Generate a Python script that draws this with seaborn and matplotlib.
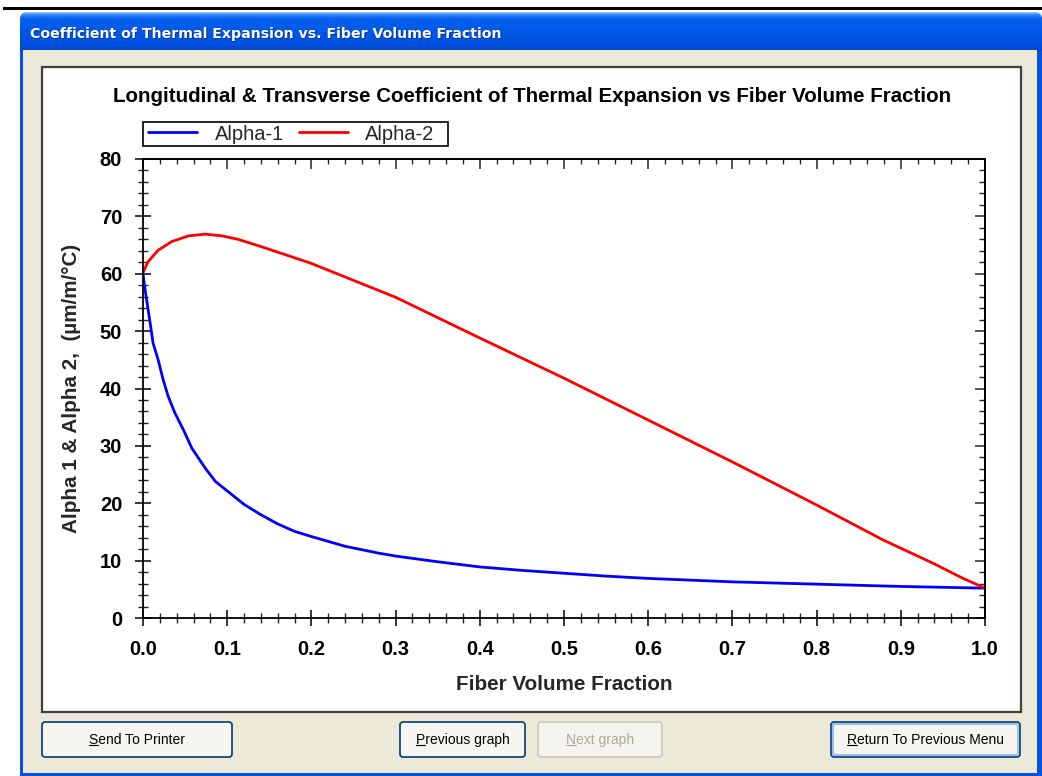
import numpy as np
import pandas as pd
import matplotlib
matplotlib.use("Agg")
import matplotlib.pyplot as plt
import seaborn as sns
from matplotlib.patches import Rectangle, FancyBboxPatch
from matplotlib.ticker import MultipleLocator

# ---------------- data ----------------
fvf_alpha1 = [0.0, 0.0025, 0.008, 0.012, 0.018, 0.024, 0.030, 0.038, 0.048, 0.058,
              0.074, 0.086, 0.103, 0.120, 0.140, 0.160, 0.180, 0.200, 0.240, 0.280,
              0.300, 0.350, 0.400, 0.450, 0.500, 0.550, 0.600, 0.650, 0.700, 0.750,
              0.800, 0.850, 0.900, 0.950, 1.000]
alpha1 = [60.0, 57.2, 51.9, 47.9, 45.0, 41.5, 38.6, 35.7, 32.8, 29.6,
          26.1, 23.8, 21.8, 19.8, 18.0, 16.4, 15.1, 14.2, 12.5, 11.3,
          10.8, 9.8, 8.9, 8.3, 7.8, 7.3, 6.9, 6.6, 6.3, 6.1,
          5.9, 5.7, 5.5, 5.35, 5.2]

fvf_alpha2 = [0.0, 0.006, 0.018, 0.034, 0.054, 0.074, 0.094, 0.113, 0.143, 0.200,
              0.300, 0.400, 0.500, 0.600, 0.700, 0.800, 0.879, 0.939, 0.974, 1.000]
alpha2 = [60.2, 62.1, 64.1, 65.6, 66.6, 66.9, 66.6, 66.0, 64.6, 61.8,
          55.9, 48.8, 41.8, 34.5, 27.2, 19.7, 13.6, 9.5, 6.9, 5.2]

series_labels = ["Alpha-1", "Alpha-2"]
x_ticks = [0.0, 0.1, 0.2, 0.3, 0.4, 0.5, 0.6, 0.7, 0.8, 0.9, 1.0]
y_ticks = [0, 10, 20, 30, 40, 50, 60, 70, 80]

window_title = "Coefficient of Thermal Expansion vs. Fiber Volume Fraction"
chart_title = "Longitudinal & Transverse Coefficient of Thermal Expansion vs Fiber Volume Fraction"
x_label = "Fiber Volume Fraction"
y_label = "Alpha 1 & Alpha 2,  (\u00b5m/m/\u00b0C)"
buttons = ["Send To Printer", "Previous graph", "Next graph", "Return To Previous Menu"]

# ---------------- style ----------------
sns.set_style("white")
chart_font = ["Liberation Sans", "DejaVu Sans"]
plt.rcParams["font.family"] = chart_font
plt.rcParams["xtick.bottom"] = True
plt.rcParams["ytick.left"] = True

W, H = 1042, 776
fig = plt.figure(figsize=(W / 100, H / 100), dpi=100)
fig.patch.set_facecolor("white")

# background "window" drawn in pixel coordinates
bg = fig.add_axes([0, 0, 1, 1])
bg.set_xlim(0, W)
bg.set_ylim(H, 0)
bg.axis("off")

bg.add_patch(Rectangle((3, 7), W - 3, 3, color="black", lw=0))
win = FancyBboxPatch((20, 12), 1022, 790, boxstyle="round,pad=0,rounding_size=8",
                     fc="#0552E0", ec="none")
bg.add_patch(win)
# title bar gradient
stops_y = [12, 14, 18, 30, 44, 50]
stops_c = ["#9CC2FF", "#3A8AFB", "#0862EE", "#0058E8", "#0050DE", "#0046CC"]
ys = np.arange(12, 51)
rgb = np.array([matplotlib.colors.to_rgb(c) for c in stops_c])
grad = np.stack([np.interp(ys, stops_y, rgb[:, k]) for k in range(3)], axis=-1)
grad = np.repeat(grad[:, None, :], 2, axis=1)
im = bg.imshow(grad, extent=(20, 1042, 51, 12), aspect="auto", interpolation="bilinear", zorder=1)
im.set_clip_path(win)
bg.set_xlim(0, W)
bg.set_ylim(H, 0)
# window body
bg.add_patch(Rectangle((23, 50), 1014, 723, fc="#ECE9D8", ec="none", zorder=2))
bg.text(31, 35, window_title, color="#0A246A", fontsize=10.2, weight="bold",
        family=["DejaVu Sans"], va="center", ha="left", zorder=3, alpha=0.6)
bg.text(30, 34, window_title, color="white", fontsize=10.2, weight="bold",
        family=["DejaVu Sans"], va="center", ha="left", zorder=3)
# white panel
bg.add_patch(Rectangle((42, 67), 979, 645, fc="white", ec="#404040", lw=1.6, zorder=2))
# legend box outline
bg.add_patch(Rectangle((143, 122), 305, 24, fc="white", ec="black", lw=1.2, zorder=6))

# buttons
btn_font = ["Liberation Sans", "DejaVu Sans"]
btn_size = 10.0
btn_boxes = [(42, 190), (400, 125), (538, 124), (831, 189)]
btn_text_objs = []
for i, ((bx, bw), label) in enumerate(zip(btn_boxes, buttons)):
    enabled = label != "Next graph"
    ec = "#003C74" if enabled else "#C9C7BA"
    bg.add_patch(FancyBboxPatch((bx, 722), bw, 35, boxstyle="round,pad=0,rounding_size=3",
                                fc="#F6F5EF" if enabled else "#F4F3EE", ec=ec, lw=1.2, zorder=3))
    if i == 3:
        bg.add_patch(FancyBboxPatch((bx + 2, 724), bw - 4, 31, boxstyle="round,pad=0,rounding_size=2",
                                    fc="none", ec="#8CB4F2", lw=1.2, zorder=3))
    t = bg.text(bx + bw / 2, 740, label, fontsize=btn_size, family=btn_font,
                color="black" if enabled else "#ACA899", ha="center", va="center", zorder=4)
    btn_text_objs.append(t)

# ---------------- chart ----------------
ax = fig.add_axes([143 / W, (H - 618) / H, (985 - 143) / W, (618 - 159) / H], zorder=5)
ax.set_facecolor("white")
df1 = pd.DataFrame({"fvf": fvf_alpha1, "alpha": alpha1})
df2 = pd.DataFrame({"fvf": fvf_alpha2, "alpha": alpha2})
sns.lineplot(data=df1, x="fvf", y="alpha", ax=ax, color="#0000FF", lw=2.0, label=series_labels[0])
sns.lineplot(data=df2, x="fvf", y="alpha", ax=ax, color="#FF0000", lw=2.0, label=series_labels[1])

ax.set_xlim(0, 1)
ax.set_ylim(0, 80)
ax.set_xticks(x_ticks)
ax.set_xticklabels([f"{v:.1f}" for v in x_ticks])
ax.set_yticks(y_ticks)
ax.set_yticklabels([str(v) for v in y_ticks])
ax.xaxis.set_minor_locator(MultipleLocator(0.02))
ax.yaxis.set_minor_locator(MultipleLocator(2))
for s in ax.spines.values():
    s.set_visible(True)
    s.set_color("black")
    s.set_linewidth(1.3)
ax.tick_params(axis="x", which="major", direction="inout", length=11, width=1.1,
               labelsize=14.5, colors="black", pad=10, bottom=True, top=False,
               labelbottom=True)
ax.tick_params(axis="y", which="major", direction="inout", length=11, width=1.1,
               labelsize=14.5, colors="black", pad=9.5, left=True, right=False,
               labelleft=True)
ax.tick_params(axis="x", which="minor", direction="inout", length=6.5, width=1.0,
               bottom=True, top=False)
ax.tick_params(axis="y", which="minor", direction="inout", length=6.5, width=1.0,
               left=True, right=False)
for lab in ax.get_xticklabels() + ax.get_yticklabels():
    lab.set_fontweight("bold")

# inward ticks on top / right
sx = ax.secondary_xaxis("top")
sx.set_xticks(x_ticks)
sx.xaxis.set_minor_locator(MultipleLocator(0.02))
sx.tick_params(which="major", direction="in", length=7, width=1.1, labeltop=False, top=True)
sx.tick_params(which="minor", direction="in", length=3.5, width=1.0, top=True)
sx.spines["top"].set_linewidth(1.3)
sy = ax.secondary_yaxis("right")
sy.set_yticks(y_ticks)
sy.yaxis.set_minor_locator(MultipleLocator(2))
sy.tick_params(which="major", direction="in", length=7, width=1.1, labelright=False, right=True)
sy.tick_params(which="minor", direction="in", length=4, width=1.0, right=True)
sy.spines["right"].set_linewidth(1.3)

ax.set_xlabel(x_label, fontsize=14.9, weight="bold")
ax.set_ylabel(y_label, fontsize=14.9, weight="bold")
ax.xaxis.set_label_coords(0.5, -(675 - 618) / 459)
ax.yaxis.set_label_coords((81 - 143) / 842, 0.5)

fig.text(532 / W, 1 - 97 / H, chart_title, ha="center", va="center",
         fontsize=14.8, weight="bold", color="black", zorder=6)

leg = ax.legend(ncol=2, loc="center left", bbox_to_anchor=(148 / W, 1 - 134 / H),
                bbox_transform=fig.transFigure, borderaxespad=0, frameon=False,
                fontsize=14.5, borderpad=0.0, handlelength=2.45, handletextpad=0.85,
                columnspacing=0.75)
leg.set_zorder(7)

# mnemonic underlines on buttons
fig.canvas.draw()
r = fig.canvas.get_renderer()
inv = bg.transData.inverted()
for t in btn_text_objs:
    bb = t.get_window_extent(r)
    tmp = bg.text(0, 0, t.get_text()[0], fontsize=btn_size, family=btn_font)
    w1 = tmp.get_window_extent(r).width
    tmp.remove()
    (x0, y0) = inv.transform((bb.x0, bb.y0))
    (x1, _) = inv.transform((bb.x0 + w1, bb.y0))
    bg.plot([x0, x1], [y0 - 2.0, y0 - 2.0], color=t.get_color(), lw=0.8, zorder=5)

fig.savefig("out.png", dpi=100)
